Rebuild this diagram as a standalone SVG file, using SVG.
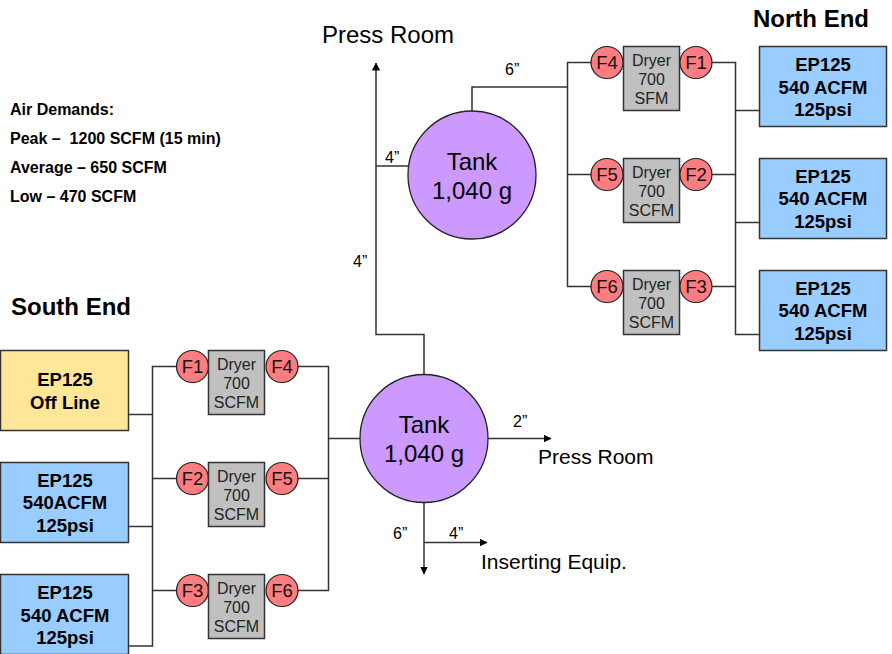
<svg xmlns="http://www.w3.org/2000/svg" width="892" height="654" viewBox="0 0 892 654">
<style>
text{font-family:"Liberation Sans",Arial,sans-serif;fill:#000}
.m{text-anchor:middle}
.ep{fill:#99ccff;stroke:#333;stroke-width:1.5}
.off{fill:#ffe699;stroke:#333;stroke-width:1.5}
.epT{font-size:18.5px;font-weight:bold;text-anchor:middle}
.dry{fill:#c0c0c0;stroke:#333;stroke-width:1.5}
.dryT{font-size:16px;text-anchor:middle;fill:#222}
.f{fill:#ff7c80;stroke:#222;stroke-width:1.2}
.fT{font-size:18.5px;text-anchor:middle;fill:#111}
.tank{fill:#cc99ff;stroke:#222;stroke-width:1.3}
.tankT{font-size:24px;text-anchor:middle}
.lab{font-size:16px}
.big{font-size:24px}
.mid{font-size:21px}
.title{font-size:24px;font-weight:bold}
.air{font-size:16px;font-weight:bold;white-space:pre}
#connectors path{fill:none;stroke:#333;stroke-width:1.5}
</style>
<defs>
<marker id="ah" markerUnits="userSpaceOnUse" markerWidth="8" markerHeight="8" refX="7.5" refY="4" orient="auto"><path d="M0,0L8,4L0,8Z" fill="#000"/></marker>
</defs>
<g id="connectors">
<path d="M472,111V87H567.5"/>
<path d="M607,62.5H567.5V286.5H607"/>
<path d="M567.5,174.5H607"/>
<path d="M696,62.5H735.5V334.5H759"/>
<path d="M696,174.5H735.5"/>
<path d="M696,286.5H735.5"/>
<path d="M735.5,110.5H759"/>
<path d="M735.5,222.5H759"/>
<path d="M408,166H376"/>
<path d="M424,374V334.5H376V63" marker-end="url(#ah)"/>
<path d="M128,414.5H152.5"/>
<path d="M128,526.5H152.5"/>
<path d="M128,646H152.5V366.5H192"/>
<path d="M152.5,478.5H192"/>
<path d="M152.5,590.5H192"/>
<path d="M282,366.5H328.5V590.5H282"/>
<path d="M282,478.5H328.5"/>
<path d="M328.5,438.5H360"/>
<path d="M488,438.5H551" marker-end="url(#ah)"/>
<path d="M424,502V574" marker-end="url(#ah)"/>
<path d="M424,542.5H487" marker-end="url(#ah)"/>
</g>
<g id="labels">
<text class="big" x="322" y="43">Press Room</text>
<text class="mid" x="538" y="464">Press Room</text>
<text class="mid" x="481" y="569">Inserting Equip.</text>
<text class="lab" x="505" y="75">6”</text>
<text class="lab" x="385" y="163">4”</text>
<text class="lab" x="353" y="267">4”</text>
<text class="lab" x="513" y="427">2”</text>
<text class="lab" x="393" y="539">6”</text>
<text class="lab" x="449" y="539">4”</text>
<text class="title" x="753" y="27">North End</text>
<text class="title" x="11" y="315">South End</text>
<text class="air" x="10" y="115">Air Demands:</text>
<text class="air" x="10" y="144">Peak –  1200 SCFM (15 min)</text>
<text class="air" x="10" y="173">Average – 650 SCFM</text>
<text class="air" x="10" y="202">Low – 470 SCFM</text>
</g>
<g id="tank-north"><circle class="tank" cx="472" cy="175" r="64"/><text class="tankT" x="472" y="170">Tank</text><text class="tankT" x="472" y="199">1,040 g</text></g>
<g id="tank-south"><circle class="tank" cx="424" cy="438.5" r="64"/><text class="tankT" x="424" y="433">Tank</text><text class="tankT" x="424" y="462">1,040 g</text></g>
<g id="n-unit1"><circle class="f" cx="607" cy="62.5" r="16"/><text class="fT" x="607" y="69">F4</text><rect class="dry" x="623.5" y="46.5" width="56" height="64"/><text class="dryT" x="651.5" y="66">Dryer</text><text class="dryT" x="651.5" y="85">700</text><text class="dryT" x="651.5" y="104">SFM</text><circle class="f" cx="696" cy="62.5" r="16"/><text class="fT" x="696" y="69">F1</text></g>
<g id="n-unit2"><circle class="f" cx="607" cy="174.5" r="16"/><text class="fT" x="607" y="181">F5</text><rect class="dry" x="623.5" y="158.5" width="56" height="64"/><text class="dryT" x="651.5" y="178">Dryer</text><text class="dryT" x="651.5" y="197">700</text><text class="dryT" x="651.5" y="216">SCFM</text><circle class="f" cx="696" cy="174.5" r="16"/><text class="fT" x="696" y="181">F2</text></g>
<g id="n-unit3"><circle class="f" cx="607" cy="286.5" r="16"/><text class="fT" x="607" y="293">F6</text><rect class="dry" x="623.5" y="270.5" width="56" height="64"/><text class="dryT" x="651.5" y="290">Dryer</text><text class="dryT" x="651.5" y="309">700</text><text class="dryT" x="651.5" y="328">SCFM</text><circle class="f" cx="696" cy="286.5" r="16"/><text class="fT" x="696" y="293">F3</text></g>
<g id="n-ep1"><rect class="ep" x="759.5" y="46.5" width="127" height="80"/><text class="epT" x="823" y="71">EP125</text><text class="epT" x="823" y="94">540 ACFM</text><text class="epT" x="823" y="116">125psi</text></g>
<g id="n-ep2"><rect class="ep" x="759.5" y="158.5" width="127" height="80"/><text class="epT" x="823" y="183">EP125</text><text class="epT" x="823" y="205">540 ACFM</text><text class="epT" x="823" y="228">125psi</text></g>
<g id="n-ep3"><rect class="ep" x="759.5" y="270.5" width="127" height="80"/><text class="epT" x="823" y="295">EP125</text><text class="epT" x="823" y="317">540 ACFM</text><text class="epT" x="823" y="340">125psi</text></g>
<g id="s-ep1"><rect class="off" x="0.5" y="350.5" width="128" height="80"/><text class="epT" x="65" y="385.5">EP125</text><text class="epT" x="65" y="408.5">Off Line</text></g>
<g id="s-ep2"><rect class="ep" x="0.5" y="462.5" width="128" height="80"/><text class="epT" x="65" y="487">EP125</text><text class="epT" x="65" y="509">540ACFM</text><text class="epT" x="65" y="532">125psi</text></g>
<g id="s-ep3"><rect class="ep" x="0.5" y="574.5" width="128" height="80"/><text class="epT" x="65" y="599">EP125</text><text class="epT" x="65" y="622">540 ACFM</text><text class="epT" x="65" y="644">125psi</text></g>
<g id="s-unit1"><circle class="f" cx="192.5" cy="366.5" r="16"/><text class="fT" x="192.5" y="373">F1</text><rect class="dry" x="208.5" y="350.5" width="56" height="64"/><text class="dryT" x="236.5" y="370">Dryer</text><text class="dryT" x="236.5" y="389">700</text><text class="dryT" x="236.5" y="408">SCFM</text><circle class="f" cx="282" cy="366.5" r="16"/><text class="fT" x="282" y="373">F4</text></g>
<g id="s-unit2"><circle class="f" cx="192.5" cy="478.5" r="16"/><text class="fT" x="192.5" y="485">F2</text><rect class="dry" x="208.5" y="462.5" width="56" height="64"/><text class="dryT" x="236.5" y="482">Dryer</text><text class="dryT" x="236.5" y="501">700</text><text class="dryT" x="236.5" y="520">SCFM</text><circle class="f" cx="282" cy="478.5" r="16"/><text class="fT" x="282" y="485">F5</text></g>
<g id="s-unit3"><circle class="f" cx="192.5" cy="590.5" r="16"/><text class="fT" x="192.5" y="597">F3</text><rect class="dry" x="208.5" y="574.5" width="56" height="64"/><text class="dryT" x="236.5" y="594">Dryer</text><text class="dryT" x="236.5" y="613">700</text><text class="dryT" x="236.5" y="632">SCFM</text><circle class="f" cx="282" cy="590.5" r="16"/><text class="fT" x="282" y="597">F6</text></g>
</svg>
